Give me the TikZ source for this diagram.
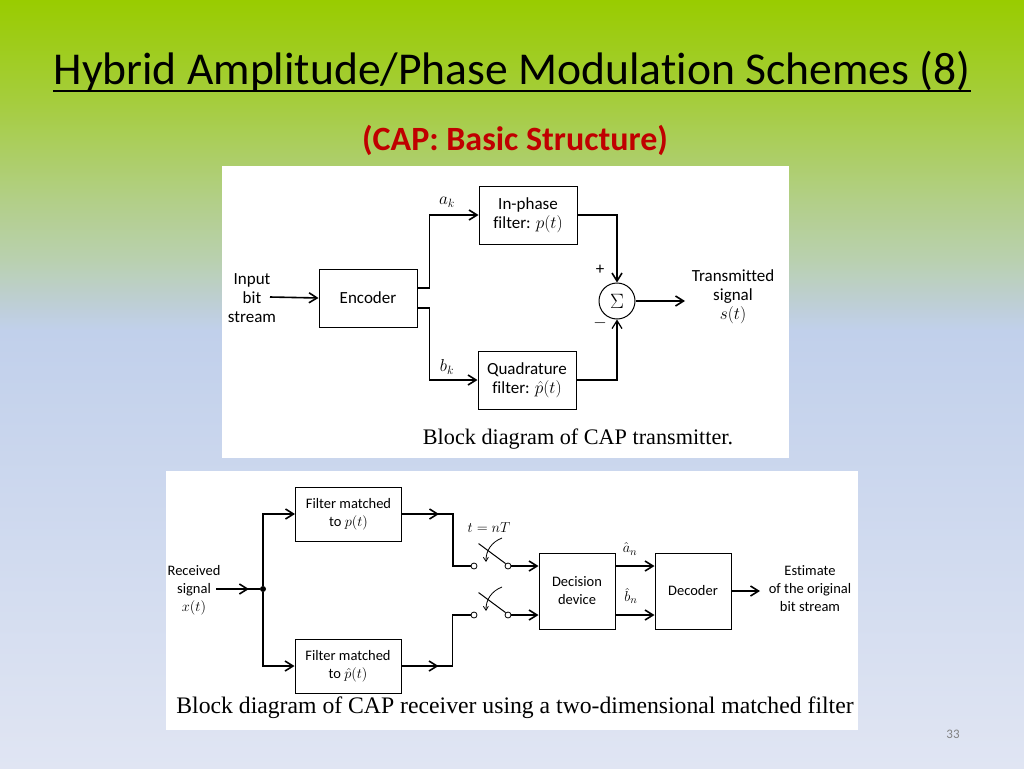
\documentclass[tikz,border=0pt]{standalone}
\usepackage{fontspec}
\setmainfont{Carlito}[Ligatures=NoCommon]
\newfontfamily\capfont{Liberation Serif}
\usetikzlibrary{positioning,arrows.meta,calc}

\definecolor{bgtop}{RGB}{153,204,0}
\definecolor{bglime}{RGB}{165,205,60}
\definecolor{bgsage}{RGB}{178,207,135}
\definecolor{bgmoss}{RGB}{185,208,175}
\definecolor{bgteal}{RGB}{190,207,215}
\definecolor{bgblue}{RGB}{193,208,235}
\definecolor{bgbot}{RGB}{224,229,243}
\definecolor{subred}{RGB}{192,0,0}
\definecolor{pagegray}{RGB}{130,130,130}
% stops are placed inside 25bp..75bp, the part that fits the path
\pgfdeclareverticalshading{slidebg}{100bp}{color(0bp)=(bgbot); color(25bp)=(bgbot); color(53.5bp)=(bgblue); color(55.1bp)=(bgteal); color(58.1bp)=(bgmoss); color(62bp)=(bgsage); color(68.5bp)=(bglime); color(75bp)=(bgtop); color(100bp)=(bgtop)}

\tikzset{
  txblock/.style={draw, line width=1pt, minimum width=98pt, minimum height=58pt, align=center, font=\fontsize{17}{19}\selectfont},
  rxblock/.style={draw, line width=1pt, minimum width=106pt, minimum height=54pt, align=center, font=\fontsize{14.5}{18}\selectfont},
  txtext/.style={align=center, font=\fontsize{17}{19}\selectfont},
  rxtext/.style={align=center, font=\fontsize{14.5}{18}\selectfont},
  wire/.style={line width=1.6pt},
  term/.style={circle, draw, fill=white, inner sep=0, minimum size=6pt, line width=0.8pt},
  blackdot/.style={circle, fill, inner sep=0, minimum size=6pt},
  caption/.style={anchor=base, font=\capfont\fontsize{22.2}{26}\selectfont}
}

\begin{document}
\begin{tikzpicture}[x=1pt, y=-1pt, >={Straight Barb[length=8pt,width=10pt]}]
\useasboundingbox (0,0) rectangle (1024,768);
% Background
\shade[shading=slidebg] (0,0) rectangle (1024,768);
\fill[white] (222,166) rectangle (789,458);
\fill[white] (166,471) rectangle (858,730);

% Titles
\node[anchor=base, inner sep=0, font=\fontsize{45.6}{54}\selectfont] (title) at (512,84) {Hybrid Amplitude/Phase Modulation Schemes (8)};
\draw[line width=1.8pt] ([yshift=-7pt]title.base west) -- ([yshift=-7pt]title.base east);
\node[anchor=base, text=subred, font=\bfseries\fontsize{34}{40}\selectfont] (sub) at (515,150) {(CAP: Basic Structure)};
\node[text=pagegray, font=\fontsize{13}{15}\selectfont] (page) at (953,734) {33};

% Transmitter nodes
\node[txblock] (enc) at (368,298) {Encoder};
\node[txblock] (inph) at (528,215) {In-phase\\filter: $p(t)$};
\node[txblock] (quad) at (527,380) {Quadrature\\filter: $\hat{p}(t)$};
\node[draw, circle, line width=1pt, minimum size=36pt, inner sep=0, font=\fontsize{22}{22}\selectfont] (sum) at (617,301) {$\Sigma$};
\node[txtext] (inp) at (252,298) {Input\\bit\\stream};
\node[txtext] (txout) at (733,297) {Transmitted\\signal\\$s(t)$};
\node[txtext] (ak) at (447,202) {$a_k$};
\node[txtext] (bk) at (447,367) {$b_k$};
\node[txtext] (plus) at (600,270) {+};
\node[txtext] (minus) at (600,323) {$-$};
\coordinate (inpend) at (270,297);
\coordinate (txend) at (685,301);
\node[caption] (txcap) at (578,444) {Block diagram of CAP transmitter.};

% Transmitter edges
\draw[wire,->] (inpend) -- (enc.west);
\draw[wire,->] ([yshift=10pt]enc.east) -- ++(12,0) |- (inph.west);
\draw[wire,->] ([yshift=-10pt]enc.east) -- ++(12,0) |- (quad.west);
\draw[wire,->] (inph.east) -| (sum.north);
\draw[line width=1.2pt,->] (quad.east) -| (sum.south);
\draw[wire,->] (sum.east) -- (txend);

% Receiver nodes
\node[rxtext] (recv) at (194,590) {Received\\signal\\$x(t)$};
\node[blackdot] (split) at (263,589) {};
\node[rxblock] (fm1) at (348.5,514) {Filter matched\\to $p(t)$};
\node[rxblock] (fm2) at (348,666) {Filter matched\\to $\hat{p}(t)$};
\node[term] (s1l) at (474,566) {};
\node[term] (s1r) at (508,566) {};
\node[term] (s2l) at (474,615) {};
\node[term] (s2r) at (508,615) {};
\node[rxtext, font=\fontsize{14}{15}\selectfont] (tnt) at (489,528) {$t = nT$};
\node[rxblock, minimum width=76pt, minimum height=76pt] (dec) at (577,591) {Decision\\device};
\node[rxblock, minimum width=76pt, minimum height=76pt] (decd) at (693,591) {Decoder};
\node[rxtext, font=\fontsize{15}{15}\selectfont] (an) at (630,549) {$\hat{a}_n$};
\node[rxtext, font=\fontsize{15}{15}\selectfont] (bn) at (631,596) {$\hat{b}_n$};
\node[rxtext] (est) at (810,589) {Estimate\\of the original\\bit stream};
\coordinate (rxin) at (216,589);
\coordinate (rxend) at (760,591);
\node[caption, font=\capfont\fontsize{23.7}{28}\selectfont] (rxcap) at (515,713) {Block diagram of CAP receiver using a two-dimensional matched filter};

% Receiver edges
\draw[wire,->] (rxin) -- ($(rxin)!0.7!(split)$);
\draw[wire] (rxin) -- (split);
\draw[wire,->] (split) |- (fm1.west);
\draw[wire,->] (split) |- (fm2.west);
\draw[wire,->] (fm1.east) -- ++(37,0);
\draw[wire] (fm1.east) -- ++(51,0) |- (s1l.west);
\draw[wire,->] (fm2.east) -- ++(37,0);
\draw[wire] (fm2.east) -- ++(51,0) |- (s2l.west);
\foreach \s in {s1,s2} {
  \draw[line width=1pt] (\s r.north west) -- ++(-27,-20);
  \draw[line width=0.8pt, -{Straight Barb[length=4pt,width=5pt]}] ([shift={(28,-28)}]\s l.center) to[bend right=35] ([shift={(12,-4)}]\s l.center);
  \draw[wire,->] (\s r.east) -- (\s r.east -| dec.west);
  \draw[wire,->] (dec.east |- \s r) -- (decd.west |- \s r);
}
\draw[wire,->] (decd.east) -- (rxend);
\end{tikzpicture}
\end{document}
